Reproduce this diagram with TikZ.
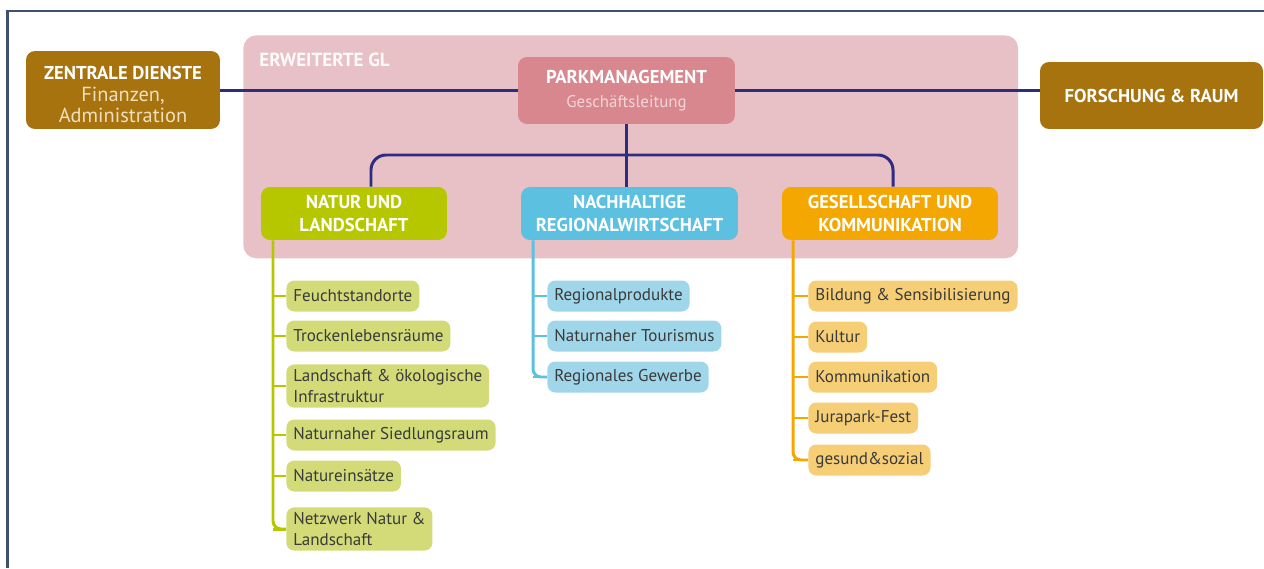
\documentclass[tikz,border=0pt]{standalone}
\usepackage{fontspec}
\setmainfont{PT Sans}
\definecolor{framec}{HTML}{3F5070}
\definecolor{glbg}{HTML}{E8C1C6}
\definecolor{dienst}{HTML}{A7730F}
\definecolor{cream}{HTML}{F1DFBD}
\definecolor{park}{HTML}{D8878F}
\definecolor{parklt}{HTML}{F3D5D8}
\definecolor{navy}{HTML}{2E2C80}
\definecolor{lime}{HTML}{B6C700}
\definecolor{limelt}{HTML}{D2DB78}
\definecolor{sky}{HTML}{5CC1E1}
\definecolor{skylt}{HTML}{A0D6EA}
\definecolor{amber}{HTML}{F4A700}
\definecolor{amberlt}{HTML}{F6CE76}
\definecolor{txt}{HTML}{3A3A3A}
\begin{document}
\begin{tikzpicture}[x=0.02cm,y=-0.02cm,
  every node/.style={inner sep=0pt},
  headbox/.style={rounded corners=0.18cm,align=center,text=white,
    font=\fontsize{10.6}{13.4}\selectfont\bfseries},
  subbox/.style={rounded corners=0.16cm,anchor=west,align=left,text=txt,
    inner xsep=0.14cm,inner ysep=2.6pt,minimum height=0.62cm,font=\fontsize{9.7}{12.4}\selectfont},
  link/.style={navy,line width=1.7pt},
  spine/.style={line width=1.7pt,rounded corners=0.16cm}]
  \useasboundingbox (0,0) rectangle (1264,568);
  \draw[framec,line width=1.4pt] (7.5,568) -- (7.5,11) -- (1264,11);

  % erweiterte GL
  \node[fill=glbg,rounded corners=0.26cm,minimum width=15.5cm,minimum height=4.46cm,
    anchor=north west] (gl) at (243,35) {};
  \node[anchor=west,text=white!92!glbg,font=\fontsize{10.8}{12}\selectfont\bfseries]
    (gltitle) at (259,60) {ERWEITERTE GL};

  % top row
  \node[headbox,fill=dienst,minimum width=3.88cm,minimum height=1.56cm,
    font=\fontsize{10.6}{12.2}\selectfont\bfseries] (zd) at (123,90)
    {\rule{0pt}{13pt}ZENTRALE DIENSTE\\{\mdseries\fontsize{11.6}{12.2}\selectfont\color{cream}Finanzen,}\\
     {\mdseries\fontsize{11.6}{12.2}\selectfont\color{cream}Administration}};
  \node[headbox,fill=park,minimum width=4.34cm,minimum height=1.34cm] (pm) at (626.5,90.5)
    {PARKMANAGEMENT\\{\mdseries\fontsize{9.6}{13}\selectfont\color{parklt}Geschäftsleitung}};
  \node[headbox,fill=dienst,minimum width=4.46cm,minimum height=1.34cm] (fr) at (1151.5,95.5)
    {FORSCHUNG \& RAUM};
  \draw[link] (zd.east |- pm.west) -- (pm.west);
  \draw[link] (pm.east) -- (pm.east -| fr.west);

  % departments
  \node[headbox,fill=lime,minimum width=3.72cm,minimum height=1.06cm] (nl) at (354,213.5)
    {NATUR UND\\LANDSCHAFT};
  \node[headbox,fill=sky,minimum width=4.34cm,minimum height=1.06cm] (rw) at (629.5,213.5)
    {NACHHALTIGE\\REGIONALWIRTSCHAFT};
  \node[headbox,fill=amber,minimum width=4.32cm,minimum height=1.06cm] (gk) at (890,213.5)
    {GESELLSCHAFT UND\\KOMMUNIKATION};
  \draw[link] (pm.south) -- (pm.south |- rw.north);
  \draw[link,rounded corners=0.3cm] (nl.north -| 371,0) -- (371,155) -- (893,155) -- (gk.north -| 893,0);

  % natur und landschaft
  \foreach \n/\y/\t in {1/296/Feuchtstandorte,2/336/Trockenlebensräume,
      3/386/{Landschaft \& ökologische\\Infrastruktur},4/435/Naturnaher Siedlungsraum,
      5/476/Natureinsätze,6/529/{Netzwerk Natur \&\\Landschaft}}{
    \node[subbox,fill=limelt] (n\n) at (286,\y) {\t};
    \draw[spine,lime] (273,\y) -- (n\n.west);}
  \draw[spine,lime] (nl.south -| 273,0) |- (n6.west);

  % regionalwirtschaft
  \foreach \n/\y/\t in {1/296/Regionalprodukte,2/336/Naturnaher Tourismus,3/377/Regionales Gewerbe}{
    \node[subbox,fill=skylt] (r\n) at (547,\y) {\t};
    \draw[spine,sky] (533,\y) -- (r\n.west);}
  \draw[spine,sky] (rw.south -| 533,0) |- (r3.west);

  % gesellschaft und kommunikation
  \foreach \n/\y/\t in {1/296/Bildung \& Sensibilisierung,2/337/Kultur,3/377/Kommunikation,
      4/418/Jurapark-Fest,5/460/gesund\&sozial}{
    \node[subbox,fill=amberlt] (g\n) at (808,\y) {\t};
    \draw[spine,amber] (793,\y) -- (g\n.west);}
  \draw[spine,amber] (gk.south -| 793,0) |- (g5.west);
\end{tikzpicture}
\end{document}
